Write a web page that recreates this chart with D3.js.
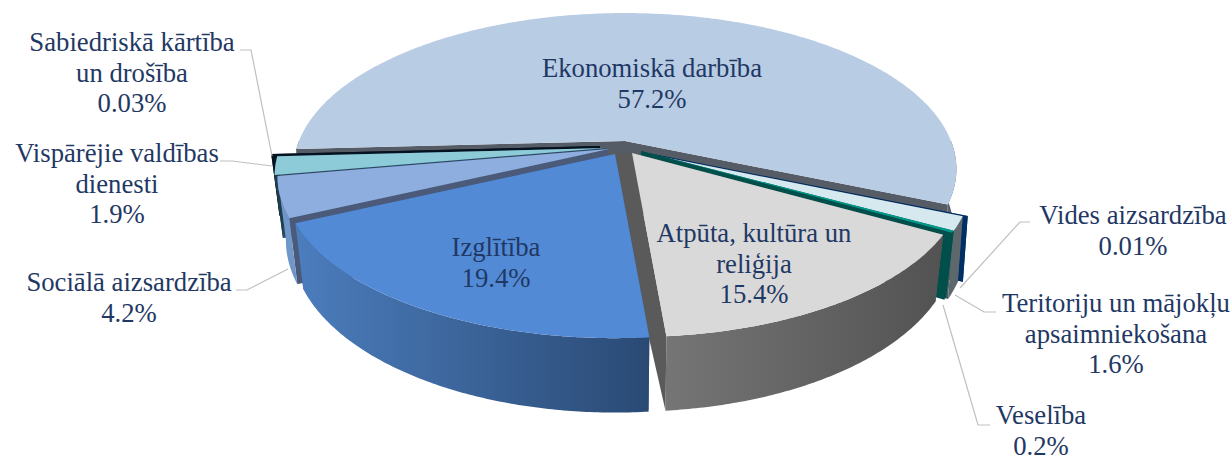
<!DOCTYPE html>
<html><head><meta charset="utf-8">
<script src="https://cdn.jsdelivr.net/npm/d3@7/dist/d3.min.js"></script>
<style>html,body{margin:0;padding:0;background:#fff}svg{display:block}text{font-family:"Liberation Serif",serif;font-size:26.7px;fill:#1f3864}</style>
</head><body><svg id="c" width="1232" height="456"></svg>
<script>
// ---- data ----
const categories = ["Ekonomiskā darbība","Vides aizsardzība","Teritoriju un mājokļu apsaimniekošana","Veselība","Atpūta, kultūra un reliģija","Izglītība","Sociālā aizsardzība","Vispārējie valdības dienesti","Sabiedriskā kārtība un drošība"];
const values = [57.2,0.01,1.6,0.2,15.4,19.4,4.2,1.9,0.03];
const valueLabels = ["57.2%","0.01%","1.6%","0.2%","15.4%","19.4%","4.2%","1.9%","0.03%"];
const labelLines = [["Ekonomiskā darbība"],["Vides aizsardzība"],["Teritoriju un mājokļu","apsaimniekošana"],["Veselība"],["Atpūta, kultūra un","reliģija"],["Izglītība"],["Sociālā aizsardzība"],["Vispārējie valdības","dienesti"],["Sabiedriskā kārtība","un drošība"]];

// ---- layout ----
const topColors  = ["#b8cce4","#002f66","#d6e9ef","#00998a","#d9d9d9","#538ad5","#8daedf","#8ecbd8","#05121f"];
const wallColors = ["#5b6068","#002f66","#5d686c","#004f4a","url(#gGrey)","url(#gBlue)","#7097ca","#1d3f4e","#05121f"];
const cutColors  = ["#555c66","#002f66","#4a5a66","#004f4a","#5a5a5a","#3c5f90","#4a5a78","#2c4a66","#05121f"];
const apexes = [[625,141],[645,152.5],[640,152.5],[641,151],[632,153],[615,154],[609,149],[606,148],[600,146]];
const taper  = [0.992,0.985,0.985,0.975,0.975,0.975,0.975,0.975,0.975];
const drawOrder = [0,8,7,6,1,2,3,4,5];
const hubOverride = {4:[607,153]};
const labelAnchors = [[652,77],[1133,224],[1116,312],[1041,424],[754,242],[496,256],[129,291],[117,162],[132,51]];
const lineStep = 30.7;
const leaders = [
  [[1030,222],[1020,222],[960,288]],
  [[996,312],[984,312],[955,295]],
  [[990,425],[978,425],[943,305]],
  [[236,290],[247,290],[288,269]],
  [[220,161],[232,161],[272,166]],
  [[240,50],[251,50],[272,156]]
];
const k = 0.18, depth = 61;
const sx = d3.scaleLinear().domain([-1,1]).range([-326,326]);
const sy = d3.scaleLinear().domain([-1,1]).range([-151,151]);
const tilt = a => { const X=Math.sin(a), Y=-Math.cos(a), p=1/(1-k*Y); return {dx:sx(X)*p, dy:sy(Y)*p, p}; };

const svg = d3.select("#c");
const defs = svg.append("defs");
const grad = (id,x1,x2,c1,c2)=>{const g=defs.append("linearGradient").attr("id",id).attr("gradientUnits","userSpaceOnUse").attr("x1",x1).attr("x2",x2).attr("y1",0).attr("y2",0);
  g.append("stop").attr("offset",0).attr("stop-color",c1);g.append("stop").attr("offset",1).attr("stop-color",c2);};
grad("gBlue",300,650,"#4b7cbc","#2a4a74");
grad("gGrey",666,945,"#757575","#525252");

const arcs = d3.pie().sort(null).value(d=>d).startAngle(267*Math.PI/180).endAngle((267+360)*Math.PI/180)(values);
const line = d3.line();
const topPt = (i,a)=>{const t=tilt(a);return [apexes[i][0]+t.dx,apexes[i][1]+t.dy];};
const botPt = (i,a)=>{const t=tilt(a);return [apexes[i][0]+t.dx*taper[i],apexes[i][1]+t.dy+depth*t.p];};
const samples = (a,b)=>{const n=Math.max(2,Math.ceil((b-a)/0.01));return d3.range(n+1).map(j=>a+(b-a)*j/n);};
const apexBot = i => hubOverride[i] || [apexes[i][0],apexes[i][1]+depth];

const g = svg.append("g");
drawOrder.forEach(i=>{
  const a0=arcs[i].startAngle,a1=arcs[i].endAngle,tau=2*Math.PI;
  [a0,a1].forEach(a=>{
    g.append("path").attr("fill",cutColors[i]).attr("d",line([apexes[i],topPt(i,a),botPt(i,a),apexBot(i)])+"Z");
  });
  [[Math.PI/2,3*Math.PI/2],[Math.PI/2+tau,3*Math.PI/2+tau]].forEach(([lo,hi])=>{
    const s=Math.max(a0,lo),e=Math.min(a1,hi);
    if(e<=s) return;
    const as=samples(s,e);
    const pts=as.map(a=>topPt(i,a)).concat(as.slice().reverse().map(a=>botPt(i,a)));
    g.append("path").attr("fill",wallColors[i]).attr("d",line(pts)+"Z");
  });
  const pts=[apexes[i]].concat(samples(a0,a1).map(a=>topPt(i,a)));
  g.append("path").attr("fill",topColors[i]).attr("d",line(pts)+"Z");
});

svg.append("g").selectAll("path").data(leaders).join("path")
  .attr("d",d=>line(d)).attr("fill","none").attr("stroke","#bfbfbf").attr("stroke-width",1.2);

const tg = svg.append("g");
categories.forEach((c,i)=>{
  const lines = labelLines[i].concat([valueLabels[i]]);
  lines.forEach((t,j)=>{
    tg.append("text").attr("x",labelAnchors[i][0]).attr("y",labelAnchors[i][1]+j*lineStep).attr("text-anchor","middle").text(t);
  });
});
</script></body></html>
